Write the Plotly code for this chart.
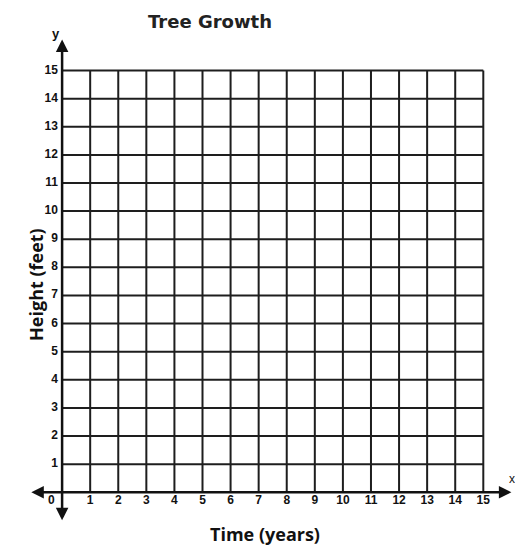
import plotly.graph_objects as go

# grid / axis values
years = list(range(0, 16))
heights = list(range(0, 16))
x_tick_labels = [str(v) for v in years]
y_tick_labels = [str(v) for v in heights[1:]]

title = "Tree Growth"
x_title = "Time (years)"
y_title = "Height (feet)"

GRID = "#1e1e1e"
TXT = "#111"

fig = go.Figure()

# vertical grid lines
for x in years[1:]:
    fig.add_trace(go.Scatter(x=[x, x], y=[0, heights[-1]], mode="lines",
                             line=dict(color=GRID, width=2), hoverinfo="skip"))
# horizontal grid lines
for y in heights[1:]:
    fig.add_trace(go.Scatter(x=[0, years[-1]], y=[y, y], mode="lines",
                             line=dict(color=GRID, width=2), hoverinfo="skip"))

# tick labels
fig.add_trace(go.Scatter(x=[-0.38] + years[1:], y=[-0.3] * len(years),
                         mode="text", text=["<b>%s</b>" % t for t in x_tick_labels],
                         textfont=dict(family="Liberation Sans", size=12, color=TXT),
                         textposition="middle center", hoverinfo="skip"))
fig.add_trace(go.Scatter(x=[-0.15] * len(heights[1:]), y=heights[1:],
                         mode="text", text=["<b>%s</b>" % t for t in y_tick_labels],
                         textfont=dict(family="Liberation Sans", size=12, color=TXT),
                         textposition="middle left", hoverinfo="skip"))

# axes with arrows
fig.add_annotation(x=16.0, y=0, ax=-1.15, ay=0, xref="x", yref="y", axref="x", ayref="y",
                   text="", showarrow=True, arrowhead=2, arrowside="end+start",
                   arrowsize=1, arrowwidth=2.5, arrowcolor=TXT)
fig.add_annotation(x=0, y=16.1, ax=0, ay=-1.05, xref="x", yref="y", axref="x", ayref="y",
                   text="", showarrow=True, arrowhead=2, arrowside="end+start",
                   arrowsize=1, arrowwidth=2.5, arrowcolor=TXT)

# labels
fig.add_annotation(x=-0.0102, y=0.49, xref="paper", yref="paper", text="<b>" + y_title + "</b>",
                   textangle=-90, showarrow=False,
                   font=dict(family="Open Sans", size=18, color=TXT))
fig.add_annotation(x=0.486, y=-0.045, xref="paper", yref="paper", text="<b>" + x_title + "</b>",
                   showarrow=False, font=dict(family="Open Sans", size=18, color=TXT))
fig.add_annotation(x=0.046, y=1.02, xref="paper", yref="paper", text="<b>y</b>",
                   showarrow=False, font=dict(family="Liberation Sans", size=13, color=TXT))
fig.add_annotation(x=1.0, y=0.078, xref="paper", yref="paper", text="x",
                   showarrow=False, font=dict(family="Liberation Sans", size=12, color=TXT))

# page body adds an 8px margin, so the figure is 8px smaller each way
fig.update_layout(
    width=515, height=550,
    margin=dict(l=19, r=6, t=26, b=32),
    title=dict(text="<b>" + title + "</b>", x=202 / 515, y=1 - 14 / 550,
               xref="container", yref="container", xanchor="center", yanchor="middle",
               font=dict(family="DejaVu Sans", size=18, color="#222")),
    showlegend=False,
    plot_bgcolor="white",
    paper_bgcolor="white",
    xaxis=dict(range=[-1.25, 16.2], showgrid=False, zeroline=False,
               showticklabels=False, fixedrange=True),
    yaxis=dict(range=[-1.2, 16.3], showgrid=False, zeroline=False,
               showticklabels=False, fixedrange=True),
)

fig.write_html("out.html")
